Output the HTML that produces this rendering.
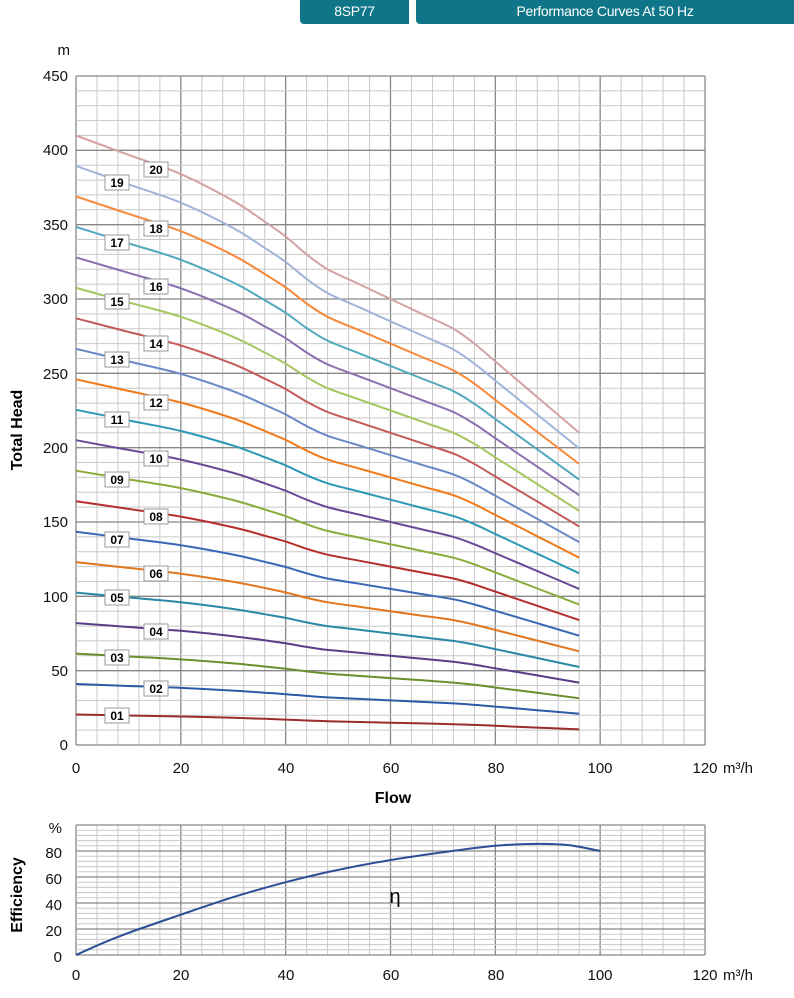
<!DOCTYPE html>
<html><head><meta charset="utf-8"><style>
body{margin:0;background:#fff;width:794px;height:998px;overflow:hidden;font-family:"Liberation Sans",sans-serif}
.hd{position:absolute;top:0;height:24px;background:#0f7689;color:#fff;font-size:14px;line-height:22px;text-align:center;border-radius:0 0 4px 4px;letter-spacing:-0.3px}
svg{position:absolute;left:0;top:0}
text{font-family:"Liberation Sans",sans-serif}
.t{font-size:15px;fill:#111}
.lb rect{fill:#fff;stroke:#999;stroke-width:1}
.lb text{font-size:12px;font-weight:bold;text-anchor:middle;fill:#000}
</style></head><body>
<div class="hd" style="left:300px;width:109px;border-radius:0 0 0 4px">8SP77</div>
<div class="hd" style="left:416px;width:378px;border-radius:0 0 0 4px">Performance Curves At 50 Hz</div>
<svg width="794" height="998" xmlns="http://www.w3.org/2000/svg">
<g id="grid"></g><g id="curves"></g>
<g class="t" text-anchor="end">
<text x="68" y="81">450</text><text x="68" y="155">400</text><text x="68" y="230">350</text><text x="68" y="304">300</text><text x="68" y="379">250</text><text x="68" y="453">200</text><text x="68" y="527">150</text><text x="68" y="602">100</text><text x="68" y="676">50</text><text x="68" y="750">0</text>
<text x="70" y="55">m</text>
</g>
<g class="t" text-anchor="middle">
<text x="76" y="773">0</text><text x="181" y="773">20</text><text x="286" y="773">40</text><text x="391" y="773">60</text><text x="496" y="773">80</text><text x="600" y="773">100</text><text x="705" y="773">120</text>
<text x="76" y="980">0</text><text x="181" y="980">20</text><text x="286" y="980">40</text><text x="391" y="980">60</text><text x="496" y="980">80</text><text x="600" y="980">100</text><text x="705" y="980">120</text>
</g>
<text class="t" x="723" y="773">m³/h</text><text class="t" x="723" y="980">m³/h</text>
<text x="393" y="803" font-size="16" font-weight="bold" text-anchor="middle">Flow</text>
<text transform="translate(22,430) rotate(-90)" font-size="16" font-weight="bold" text-anchor="middle">Total Head</text>
<text transform="translate(22,895) rotate(-90)" font-size="16" font-weight="bold" text-anchor="middle">Efficiency</text>
<g class="t" text-anchor="end">
<text x="62" y="833">%</text><text x="62" y="858">80</text><text x="62" y="884">60</text><text x="62" y="910">40</text><text x="62" y="936">20</text><text x="62" y="962">0</text>
</g>
<text x="395" y="903" font-size="20" font-family="Liberation Serif" text-anchor="middle">η</text>
<g class="lb">
<rect x="105" y="708" width="24" height="15"/><text x="117" y="720">01</text>
<rect x="144" y="681" width="24" height="15"/><text x="156" y="693">02</text>
<rect x="105" y="650" width="24" height="15"/><text x="117" y="662">03</text>
<rect x="144" y="624" width="24" height="15"/><text x="156" y="636">04</text>
<rect x="105" y="590" width="24" height="15"/><text x="117" y="602">05</text>
<rect x="144" y="566" width="24" height="15"/><text x="156" y="578">06</text>
<rect x="105" y="532" width="24" height="15"/><text x="117" y="544">07</text>
<rect x="144" y="509" width="24" height="15"/><text x="156" y="521">08</text>
<rect x="105" y="472" width="24" height="15"/><text x="117" y="484">09</text>
<rect x="144" y="451" width="24" height="15"/><text x="156" y="463">10</text>
<rect x="105" y="412" width="24" height="15"/><text x="117" y="424">11</text>
<rect x="144" y="395" width="24" height="15"/><text x="156" y="407">12</text>
<rect x="105" y="352" width="24" height="15"/><text x="117" y="364">13</text>
<rect x="144" y="336" width="24" height="15"/><text x="156" y="348">14</text>
<rect x="105" y="294" width="24" height="15"/><text x="117" y="306">15</text>
<rect x="144" y="279" width="24" height="15"/><text x="156" y="291">16</text>
<rect x="105" y="235" width="24" height="15"/><text x="117" y="247">17</text>
<rect x="144" y="221" width="24" height="15"/><text x="156" y="233">18</text>
<rect x="105" y="175" width="24" height="15"/><text x="117" y="187">19</text>
<rect x="144" y="162" width="24" height="15"/><text x="156" y="174">20</text>
</g>
</svg>
<script>
var NS="http://www.w3.org/2000/svg";
function el(p,t,a){var e=document.createElementNS(NS,t);for(var k in a)e.setAttribute(k,a[k]);p.appendChild(e);return e;}
var g=document.getElementById("grid"),c=document.getElementById("curves");
var X=function(f){return 76+f*629/120;};
var Y=function(h){return 745-h*669/450;};
var YE=function(e){return 955-e*1.3;};
for(var f=0;f<=120;f+=4){var mj=f%20==0;el(g,"line",{x1:X(f),x2:X(f),y1:76,y2:745,stroke:mj?"#888":"#c8c8c8","stroke-width":mj?1.3:1});}
for(var h=0;h<=450;h+=10){var mj=h%50==0;el(g,"line",{x1:76,x2:705,y1:Y(h),y2:Y(h),stroke:mj?"#888":"#c8c8c8","stroke-width":mj?1.3:1});}
for(var f=0;f<=120;f+=4){var mj=f%20==0;el(g,"line",{x1:X(f),x2:X(f),y1:YE(100),y2:YE(0),stroke:mj?"#888":"#c8c8c8","stroke-width":mj?1.3:1});}
for(var e=0;e<=100;e+=4){var mj=e%20==0;el(g,"line",{x1:76,x2:705,y1:YE(e),y2:YE(e),stroke:mj?"#888":"#c8c8c8","stroke-width":mj?1.3:1});}
function smooth(pts){var d="M"+pts[0][0].toFixed(1)+","+pts[0][1].toFixed(1);
for(var i=0;i<pts.length-1;i++){var p0=pts[i-1]||pts[i],p1=pts[i],p2=pts[i+1],p3=pts[i+2]||p2;
var c1x=p1[0]+(p2[0]-p0[0])/6,c1y=p1[1]+(p2[1]-p0[1])/6,c2x=p2[0]-(p3[0]-p1[0])/6,c2y=p2[1]-(p3[1]-p1[1])/6;
d+="C"+c1x.toFixed(1)+","+c1y.toFixed(1)+" "+c2x.toFixed(1)+","+c2y.toFixed(1)+" "+p2[0].toFixed(1)+","+p2[1].toFixed(1);}return d;}
var base=[[0,410],[10,397],[20,384],[30,366],[36,352],[40,342],[44,330],[48,320],[54,310],[60,300],[66,290],[72,280],[76,270],[80,258],[88,234],[96,210]];
var cols=["#9b2c2c","#2b5aa6","#6b8f2c","#5a3d88","#2a88a6","#e0761e","#3a68b6","#b52f2a","#8aab3a","#6a4a98","#2a98b6","#f07a1a","#6a88c6","#c45a5a","#a6c660","#8a70ae","#52a8be","#f8883a","#a0b4da","#d4a2a2"];
for(var n=1;n<=20;n++){var pts=base.map(function(p){return [X(p[0]),Y(p[1]*n/20)];});
el(c,"path",{d:smooth(pts),fill:"none",stroke:cols[n-1],"stroke-width":2});}
var eff=[[0,0],[5,9],[10,17],[20,31],[30,44.5],[40,56],[50,65.5],[60,73],[70,79],[80,84],[88,85.5],[94,84.5],[100,80]];
el(c,"path",{d:smooth(eff.map(function(p){return [X(p[0]),YE(p[1])];})),fill:"none",stroke:"#2b4f96","stroke-width":2});
</script>
</body></html>
